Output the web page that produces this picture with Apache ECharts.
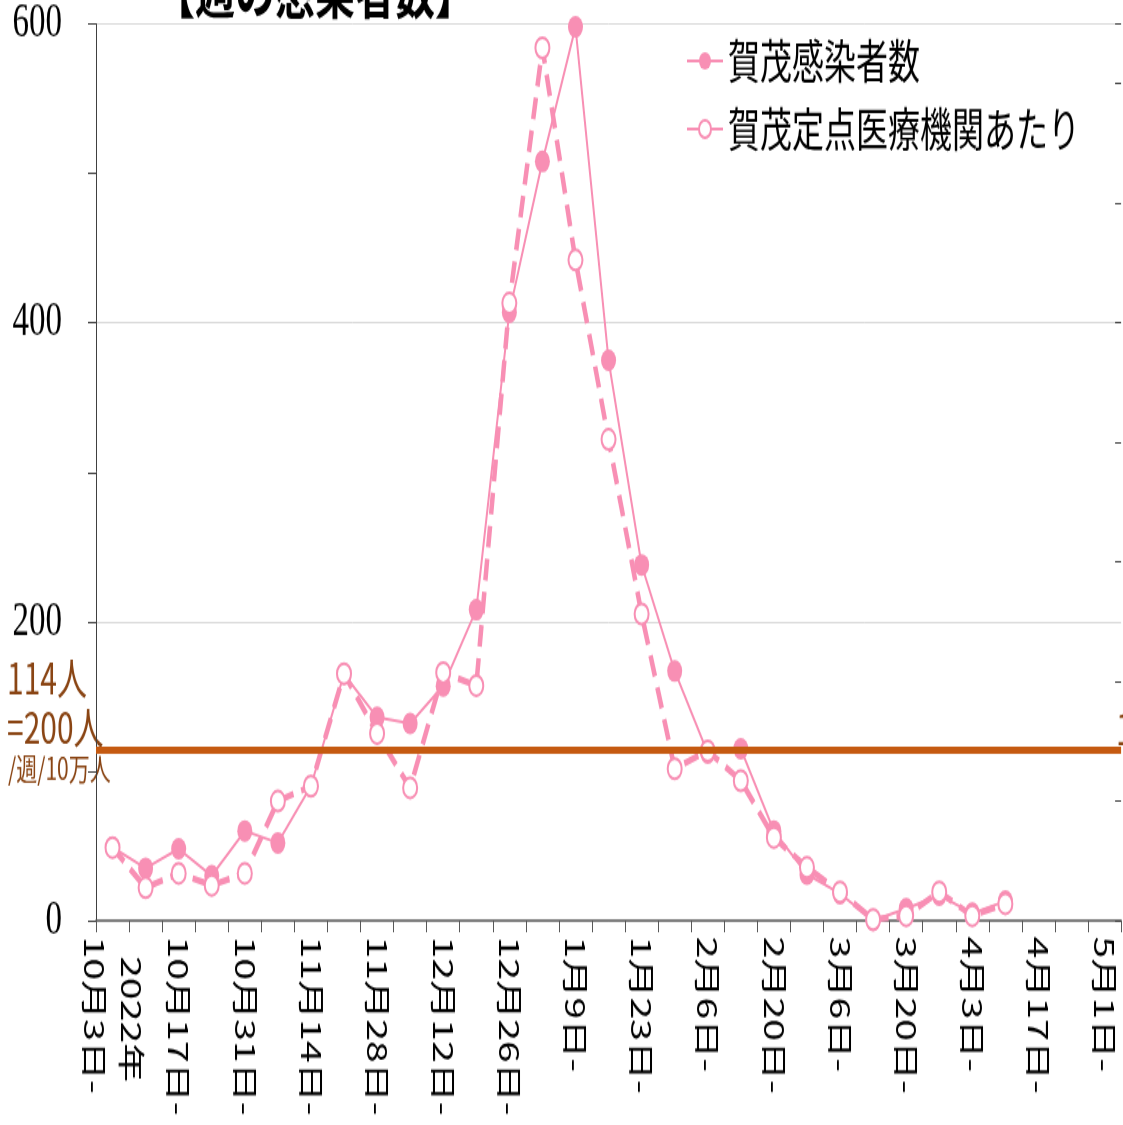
<!DOCTYPE html>
<html>
<head>
<meta charset="utf-8">
<script src="https://cdn.jsdelivr.net/npm/echarts@6/dist/echarts.min.js"></script>
<style>
  html, body { margin: 0; padding: 0; background: #fff; }
  #wrap { width: 1123px; height: 1125px; overflow: hidden; position: relative; }
  /* 元の図は縦に引き伸ばされているので、描画後に縦方向だけ拡大する */
  #chart { position: absolute; left: 0; top: 0; width: 1123px; height: 776px; transform: scaleY(1.4497); transform-origin: 0 0; }
</style>
</head>
<body>
<div id="wrap"><div id="chart"></div></div>
<script>
// 週のはじまり（横軸）
const weeks = ['10月3日-', '10月10日-', '10月17日-', '10月24日-', '10月31日-', '11月7日-', '11月14日-', '11月21日-',
  '11月28日-', '12月5日-', '12月12日-', '12月19日-', '12月26日-', '1月2日-', '1月9日-', '1月16日-', '1月23日-',
  '1月30日-', '2月6日-', '2月13日-', '2月20日-', '2月27日-', '3月6日-', '3月13日-', '3月20日-', '3月27日-',
  '4月3日-', '4月10日-', '4月17日-', '4月24日-', '5月1日-']
const yearLabel = '2022年'

// 賀茂感染者数（左軸）
const cases = [49, 35, 48, 30, 60, 52, 90, 165, 136, 132, 157, 208, 407, 508, 598, 375, 238, 167, 112, 115,
  60, 31, 18, 0, 8, 17, 5, 13]
// 賀茂定点医療機関あたり（右軸）
const perSentinel = [1.22, 0.55, 0.79, 0.59, 0.79, 2.0, 2.25, 4.13, 3.13, 2.22, 4.15, 3.93, 10.33, 14.6, 11.05,
  8.05, 5.13, 2.54, 2.84, 2.34, 1.39, 0.89, 0.48, 0.02, 0.08, 0.48, 0.08, 0.28]

// 基準線 114人 = 200人/週/10万人
const threshold = 114

const pink = '#F88FB4'
const brown = '#8A4514'
const jp = 'Noto Sans CJK JP'

const option = {
  animation: false,
  backgroundColor: '#fff',
  grid: { left: 96, right: -2, top: 15, bottom: 141 },
  legend: {
    orient: 'vertical',
    left: 681,
    top: 21,
    itemWidth: 36,
    itemHeight: 15,
    itemGap: 15,
    textStyle: { fontSize: 32, color: '#000', fontFamily: jp },
    data: ['賀茂感染者数', '賀茂定点医療機関あたり']
  },
  xAxis: {
    type: 'category',
    data: weeks,
    boundaryGap: true,
    axisLine: { lineStyle: { color: '#595959', width: 1.5 } },
    axisTick: { show: true, interval: 0, length: 8, lineStyle: { color: '#595959' } },
    axisLabel: {
      interval: 1,
      rotate: -90,
      margin: 11,
      fontSize: 27,
      lineHeight: 37,
      color: '#000',
      fontFamily: jp,
      formatter: (v, i) => i === 0 ? '\u2002' + yearLabel + '\n' + v : v
    }
  },
  yAxis: [{
    type: 'value',
    min: 0,
    max: 600,
    interval: 200,
    axisLine: { show: true, lineStyle: { color: '#404040' } },
    axisTick: { show: true, length: 8, lineStyle: { color: '#404040' } },
    minorTick: { show: true, splitNumber: 2, length: 8, lineStyle: { color: '#404040' } },
    splitLine: { lineStyle: { color: '#D9D9D9', width: 1 } },
    axisLabel: { fontSize: 33, color: '#000', margin: 34, fontFamily: 'Liberation Sans Narrow' }
  }, {
    type: 'value',
    min: 0,
    max: 15,
    interval: 2,
    position: 'right',
    axisLine: { show: false },
    axisTick: { show: true, inside: true, length: 6, lineStyle: { color: '#404040' } },
    splitLine: { show: false },
    axisLabel: { show: false }
  }],
  series: [{
    name: '賀茂感染者数',
    type: 'line',
    yAxisIndex: 0,
    data: cases,
    symbol: 'circle',
    symbolSize: 15,
    color: pink,
    lineStyle: { color: pink, width: 2 },
    itemStyle: { color: pink },
    markLine: {
      silent: true,
      symbol: 'none',
      label: { show: false },
      lineStyle: { color: '#C55A11', width: 5, type: 'solid' },
      data: [{ yAxis: threshold }]
    }
  }, {
    name: '賀茂定点医療機関あたり',
    type: 'line',
    yAxisIndex: 1,
    data: perSentinel,
    symbol: 'emptyCircle',
    symbolSize: 14,
    color: pink,
    lineStyle: { color: pink, width: 4.5, type: [15, 8] },
    itemStyle: { color: pink, borderColor: pink, borderWidth: 3.5 }
  }],
  graphic: [
    { type: 'text', left: 155, top: -26, style: { text: '【週の感染者数】', fontSize: 40, fontWeight: 'bold', fill: '#000', fontFamily: jp } },
    { type: 'text', left: 7, top: 453, style: { text: '114人', fontSize: 30, fill: brown, fontFamily: jp } },
    { type: 'text', left: 7, top: 487, style: { text: '=200人', fontSize: 30, fill: brown, fontFamily: jp } },
    { type: 'text', left: 8, top: 520, style: { text: '/週/10万人', fontSize: 21, fill: brown, fontFamily: jp } },
    { type: 'text', left: 1116, top: 488, style: { text: '114人', fontSize: 30, fill: brown, fontFamily: jp } }
  ]
}

echarts.init(document.getElementById('chart')).setOption(option)
</script>
</body>
</html>
